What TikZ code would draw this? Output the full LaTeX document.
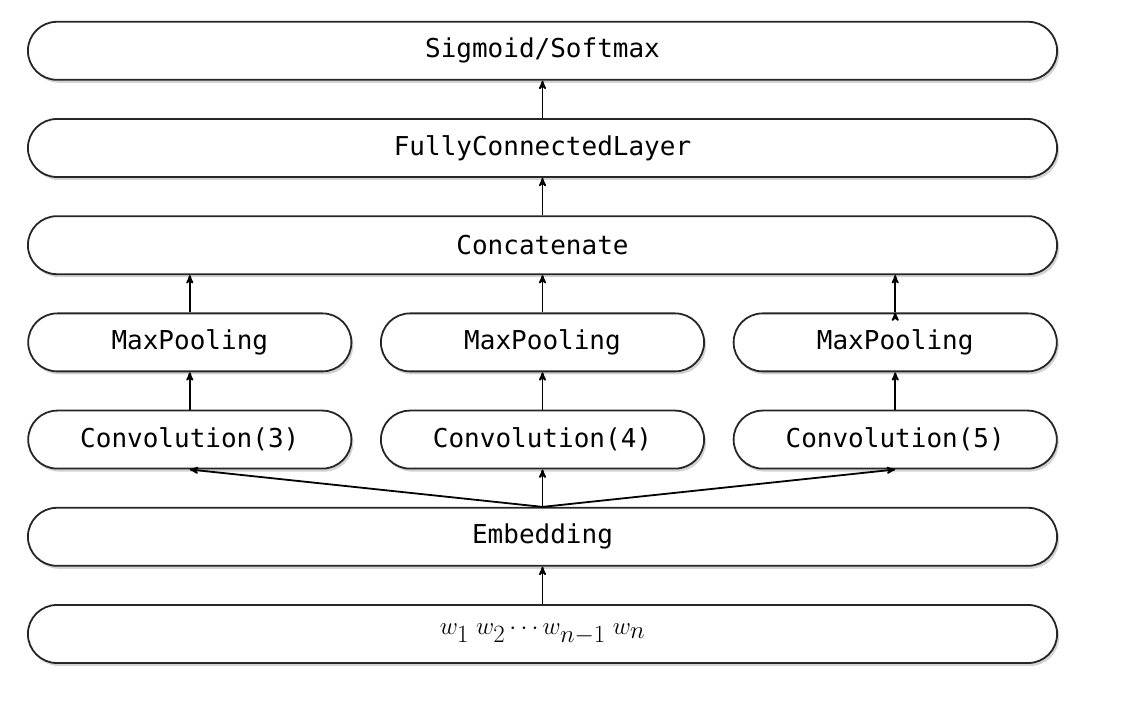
\documentclass[tikz,border=0pt]{standalone}
\usepackage{fontspec}
\setmonofont{DejaVu Sans Mono}
\usetikzlibrary{arrows,positioning,shadows}

\begin{document}
\begin{tikzpicture}[x=1pt,y=1pt,>=stealth',line width=1.8pt,
                    node distance=37.4pt and 27.7pt,
                    layer node/.style={draw=black!85,fill=white,rounded corners=29pt,
                      minimum height=58pt,inner sep=0pt,
                      drop shadow={opacity=0.35,shadow xshift=2pt,shadow yshift=-3pt},
                      font=\ttfamily\fontsize{26}{30}\selectfont,text=black},
                    wide node/.style={layer node,minimum width=1029.2pt},
                    short node/.style={layer node,minimum width=323.2pt}]
  \useasboundingbox (0,0) rectangle (1148,706);
  \node[wide node] (words) at (542.5,72) {\fontsize{33}{36}\selectfont$w_1\;w_2\cdots w_{n-1}\;w_n$};
  \node[wide node] (emb) [above=of words] {Embedding};
  \node[short node] (conv4) [above=of emb] {Convolution(4)};
  \node[short node] (conv3) [left=of conv4] {Convolution(3)};
  \node[short node] (conv5) [right=of conv4] {Convolution(5)};
  \node[short node] (pool3) [above=of conv3] {MaxPooling};
  \node[short node] (pool4) [above=of conv4] {MaxPooling};
  \node[short node] (pool5) [above=of conv5] {MaxPooling};
  \node[wide node] (concat) [above=of pool4] {Concatenate};
  \node[wide node] (fc) [above=of concat] {FullyConnectedLayer};
  \node[wide node] (out) [above=of fc] {Sigmoid/Softmax};
  \path[->,draw=black]
    (words) edge (emb)
    (emb.north) edge (conv3.south)
                edge (conv4.south)
                edge (conv5.south)
    (conv3) edge (pool3)
    (conv4) edge (pool4)
    (conv5) edge (pool5)
    (pool3.north) edge (pool3.north |- concat.south)
    (pool4) edge (concat)
    (pool5.north) edge (pool5.north |- concat.south)
    (concat) edge (fc)
    (fc) edge (out);
\end{tikzpicture}
\end{document}
